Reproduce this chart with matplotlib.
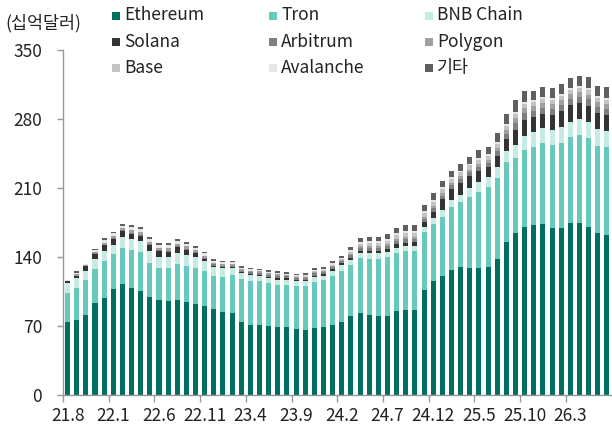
import numpy as np
import matplotlib
matplotlib.use("Agg")
import matplotlib.pyplot as plt
from matplotlib.patches import Rectangle

plt.rcParams['font.family'] = ['Noto Sans CJK KR', 'DejaVu Sans']

# monthly categories 21.8 .. 26.7
months = []
y, m = 21, 8
for _ in range(60):
    months.append(f"{y}.{m}")
    m += 1
    if m > 12:
        y, m = y + 1, 1

tick_labels = ['21.8', '22.1', '22.6', '22.11', '23.4', '23.9',
               '24.2', '24.7', '24.12', '25.5', '25.10', '26.3']

# stablecoin supply by chain (billion USD)
ethereum = [73.4, 75.8, 81.2, 92.7, 98.2, 107.4, 112.5, 108.0, 105.0, 98.8,
            95.8, 95.5, 95.8, 94.5, 92.1, 89.7, 87.3, 83.6, 82.5, 73.8,
            71.0, 70.7, 70.0, 68.3, 68.6, 66.6, 65.6, 67.3, 68.3, 71.0,
            74.1, 79.5, 82.5, 81.2, 80.2, 80.2, 85.3, 86.3, 85.6, 106.7,
            115.9, 120.3, 127.1, 129.4, 128.8, 128.8, 129.8, 137.3, 154.9, 163.8,
            170.5, 172.3, 173.6, 169.6, 169.6, 174.6, 174.6, 170.5, 163.8, 161.7]
tron = [29.9, 32.6, 35.0, 34.7, 37.3, 35.3, 36.3, 38.7, 39.7, 35.1,
        32.6, 32.9, 37.1, 36.0, 36.7, 35.6, 32.9, 36.0, 38.8, 43.4,
        44.1, 44.5, 43.5, 43.5, 43.2, 44.2, 45.2, 47.5, 48.3, 50.0,
        51.2, 52.7, 56.0, 56.8, 57.8, 59.4, 58.4, 59.4, 60.1, 58.4,
        57.4, 60.1, 63.5, 66.3, 71.9, 77.0, 81.1, 83.2, 80.9, 76.4,
        78.1, 79.4, 81.9, 84.1, 85.9, 86.7, 89.0, 90.1, 88.9, 90.3]
bnb = [10.2, 9.8, 9.8, 10.6, 10.9, 9.8, 11.2, 10.9, 11.2, 12.5,
       11.9, 11.9, 11.2, 11.5, 10.8, 10.2, 9.2, 8.8, 7.1, 6.1,
       6.2, 5.0, 4.7, 5.1, 5.1, 4.4, 4.4, 4.8, 4.4, 5.0,
       6.5, 5.0, 5.5, 5.5, 5.5, 5.1, 5.5, 5.1, 5.1, 5.4,
       6.4, 6.8, 6.8, 7.1, 8.9, 10.2, 10.2, 10.8, 11.5, 13.2,
       14.3, 14.7, 14.9, 15.3, 15.9, 15.9, 16.3, 16.6, 17.0, 16.0]
solana = [1.7, 2.7, 4.4, 5.1, 5.1, 5.8, 6.1, 5.8, 5.1, 5.4,
          5.4, 4.8, 5.8, 5.4, 4.4, 2.4, 1.7, 1.0, 1.0, 1.0,
          1.0, 1.0, 1.2, 1.2, 1.2, 1.3, 1.3, 1.4, 1.5, 1.6,
          1.8, 2.0, 2.4, 2.6, 2.8, 3.0, 3.4, 3.6, 3.8, 4.8,
          5.8, 11.2, 11.9, 12.6, 12.5, 11.2, 10.6, 11.2, 12.6, 15.6,
          16.0, 15.9, 14.6, 15.0, 17.0, 17.3, 16.3, 16.3, 16.3, 16.0]
arbitrum = [0.0, 0.0, 0.1, 0.3, 0.5, 0.6, 0.7, 0.8, 0.9, 0.9,
            0.9, 1.0, 1.0, 1.0, 1.0, 1.2, 1.2, 1.5, 1.6, 1.6,
            1.9, 2.1, 2.2, 2.3, 2.0, 2.0, 2.1, 2.1, 2.0, 2.2,
            2.1, 2.6, 3.0, 3.1, 3.1, 3.3, 3.5, 3.6, 3.5, 3.5,
            3.8, 3.7, 3.6, 3.7, 3.8, 4.2, 4.0, 4.6, 5.2, 6.6,
            6.8, 6.0, 6.2, 6.2, 6.1, 6.0, 6.1, 6.4, 6.2, 6.3]
polygon = [0.6, 1.5, 1.0, 1.6, 2.2, 2.2, 2.3, 2.6, 2.8, 2.6,
           2.6, 2.7, 2.3, 2.3, 2.1, 2.2, 1.9, 2.0, 2.0, 1.8,
           1.9, 1.8, 1.7, 1.7, 1.4, 1.4, 1.4, 1.3, 1.2, 1.2,
           1.1, 1.3, 1.5, 1.6, 1.6, 1.8, 1.9, 2.0, 2.0, 2.0,
           2.3, 2.3, 2.3, 2.5, 2.7, 3.0, 2.9, 3.5, 3.9, 5.0,
           5.1, 4.6, 4.7, 4.8, 4.7, 4.6, 4.6, 4.9, 4.7, 4.8]
base = [0.0, 0.0, 0.0, 0.0, 0.0, 0.0, 0.0, 0.0, 0.0, 0.0,
        0.0, 0.0, 0.0, 0.0, 0.0, 0.0, 0.0, 0.0, 0.0, 0.0,
        0.0, 0.0, 0.0, 0.1, 0.2, 0.4, 0.8, 1.0, 0.9, 1.2,
        1.3, 2.0, 2.6, 2.9, 3.0, 3.4, 3.7, 3.8, 3.8, 3.9,
        4.2, 4.1, 4.0, 4.1, 4.2, 4.4, 4.0, 4.3, 4.3, 4.4,
        4.1, 4.0, 4.1, 4.2, 4.1, 4.2, 4.2, 4.4, 4.3, 4.3]
avalanche = [0.3, 1.5, 0.8, 1.8, 2.6, 2.6, 2.7, 3.0, 3.2, 3.0,
             3.0, 3.0, 2.5, 2.4, 2.1, 2.1, 1.7, 1.8, 1.7, 1.4,
             1.5, 1.4, 1.4, 1.3, 1.1, 1.1, 1.2, 1.2, 1.0, 1.1,
             1.0, 1.5, 1.9, 2.0, 2.0, 2.2, 2.3, 2.3, 2.2, 2.1,
             2.2, 2.0, 1.8, 1.8, 1.8, 1.9, 1.7, 1.8, 1.9, 2.0,
             2.0, 2.0, 2.0, 2.0, 2.0, 2.0, 2.1, 2.2, 2.1, 2.1]
others = [0.5, 1.4, 0.6, 1.4, 1.9, 1.8, 1.8, 2.1, 2.3, 2.1,
          2.1, 2.1, 1.9, 1.8, 1.6, 1.7, 1.4, 1.5, 1.5, 1.3,
          1.5, 1.6, 1.7, 1.8, 1.5, 1.6, 1.7, 1.8, 1.8, 2.2,
          2.2, 3.2, 4.0, 4.3, 4.4, 5.0, 5.6, 5.8, 5.8, 5.8,
          6.5, 6.2, 6.2, 6.6, 6.9, 7.9, 7.4, 9.0, 9.8, 12.6,
          11.8, 9.8, 10.2, 10.3, 10.3, 10.1, 10.2, 11.0, 10.6, 10.7]

series = [
    ("Ethereum", ethereum, "#006F60"),
    ("Tron", tron, "#66C9BA"),
    ("BNB Chain", bnb, "#C4ECE5"),
    ("Solana", solana, "#333333"),
    ("Arbitrum", arbitrum, "#7F7F7F"),
    ("Polygon", polygon, "#A0A0A0"),
    ("Base", base, "#C4C4C4"),
    ("Avalanche", avalanche, "#E6E6E6"),
    ("기타", others, "#5F5F5F"),
]

fig = plt.figure(figsize=(6.12, 4.30), dpi=100)
ax = fig.add_axes([63 / 612, 1 - 394.7 / 430, 548.5 / 612, (394.7 - 50) / 430])

x = np.arange(len(months))
bottom = np.zeros(len(months))
for name, vals, col in series:
    vals = np.array(vals)
    ax.bar(x, vals, width=0.55, bottom=bottom, color=col, linewidth=0)
    bottom += vals

ax.set_xlim(-0.5, 59.5)
ax.set_ylim(0, 350)
ax.set_yticks([0, 70, 140, 210, 280, 350])

label_pos = [months.index(t) for t in tick_labels]
ax.set_xticks(label_pos)
ax.set_xticklabels(tick_labels)
ax.set_xticks([p - 0.5 for p in label_pos], minor=True)
ax.tick_params(axis='x', which='major', length=0, pad=9, labelsize=12.5, colors='#222222')
ax.tick_params(axis='x', which='minor', length=5, width=1, color='#999999')
ax.tick_params(axis='y', length=4, width=1, color='#999999', pad=11,
               labelsize=12.5, labelcolor='#222222')

for s in ['top', 'right']:
    ax.spines[s].set_visible(False)
for s in ['left', 'bottom']:
    ax.spines[s].set_color('#999999')
    ax.spines[s].set_linewidth(1)

fig.text(5 / 612, 1 - 23 / 430, "(십억달러)", fontsize=12.5, color='#222222',
         ha='left', va='center')

# legend, 3 columns x 3 rows
col_x = [112, 269, 425]
row_y = [15.5, 42, 68]
for k, (name, vals, col) in enumerate(series):
    cx = col_x[k % 3]
    cy = row_y[k // 3]
    fig.add_artist(Rectangle((cx / 612, 1 - (cy + 4) / 430), 8 / 612, 8 / 430,
                             transform=fig.transFigure, color=col, linewidth=0))
    fig.text((cx + 12) / 612, 1 - cy / 430, name, fontsize=12.5, color='#222222',
             ha='left', va='center')

plt.savefig("out.png", dpi=100)
